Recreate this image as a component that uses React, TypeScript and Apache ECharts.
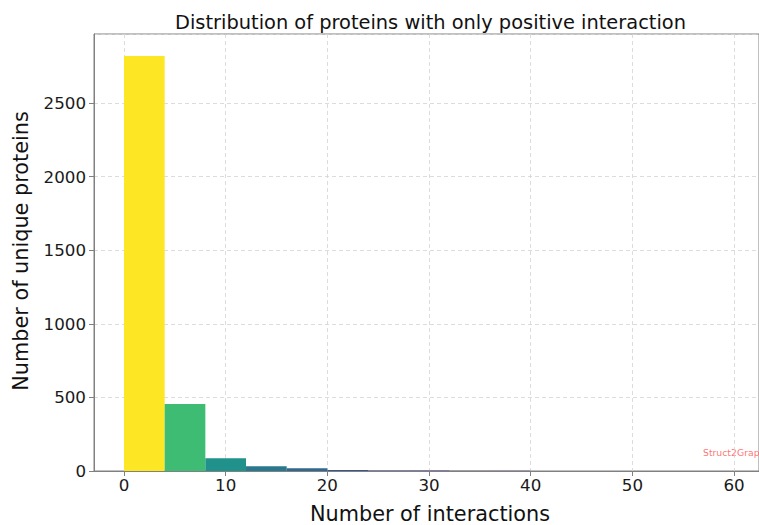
import React, { useEffect, useRef } from "react";
import * as echarts from "echarts";

const binStarts = [0, 4, 8, 12, 16, 20, 24, 28, 32, 36];
const binWidth = 4;
const counts = [2820, 455, 86, 32, 18, 7, 4, 3, 2, 2];
const binColors = ["#fde725", "#3fbc73", "#21918c", "#2a788e", "#31688e", "#39568c", "#3e4a89", "#443a83", "#472c7a", "#481d6f"];
const yMax = 2969;
const xMax = 62.45;

const FONT = "DejaVu Sans";
const gridLine = { show: true, lineStyle: { color: "#d3d3d3", type: [4, 3], width: 0.8 } };

export default function App() {
  const ref = useRef<HTMLDivElement>(null);
  useEffect(() => {
    document.body.style.margin = "0";
    const chart = echarts.init(ref.current!, undefined, { renderer: "svg" });
    const data = binStarts.map((s, i) => [s, s + binWidth, counts[i], i]);
    chart.setOption({
      animation: false,
      grid: [
        { left: 94, top: 34, bottom: 54, right: -2, show: true, borderColor: "#808080", borderWidth: 1, backgroundColor: "transparent" },
        { left: 124, top: 34, bottom: 54, right: -2, show: false },
      ],
      xAxis: [
        {
          gridIndex: 0,
          type: "value",
          min: 0,
          max: 1,
          axisLine: { show: true, onZero: false, lineStyle: { color: "#808080", width: 1 } },
          axisTick: { show: false },
          axisLabel: { show: false },
          splitLine: { show: false },
        },
        {
          gridIndex: 1,
          type: "value",
          min: 0,
          max: xMax,
          interval: 10,
          axisLine: { show: false, onZero: false },
          axisTick: { show: true, length: 5, lineStyle: { color: "#808080" } },
          axisLabel: {
            color: "#1a1a1a",
            fontFamily: FONT,
            fontSize: 16.7,
            margin: 5,
            showMaxLabel: false,
            formatter: (v: number) => (v % 10 === 0 ? String(v) : ""),
          },
          splitLine: gridLine,
        },
      ],
      yAxis: [
        {
          gridIndex: 0,
          type: "value",
          min: 0,
          max: yMax,
          interval: 500,
          axisLine: { show: true, onZero: false, lineStyle: { color: "#808080", width: 1 } },
          axisTick: { show: true, length: 5, lineStyle: { color: "#808080" } },
          axisLabel: {
            color: "#1a1a1a",
            fontFamily: FONT,
            fontSize: 16.7,
            margin: 8,
            showMaxLabel: false,
            formatter: (v: number) => (v % 500 === 0 ? String(v) : ""),
          },
          splitLine: gridLine,
        },
        {
          gridIndex: 1,
          type: "value",
          min: 0,
          max: yMax,
          interval: 500,
          show: false,
          splitLine: { show: false },
        },
      ],
      series: [
        {
          type: "custom",
          xAxisIndex: 1,
          yAxisIndex: 1,
          data,
          encode: { x: [0, 1], y: 2 },
          renderItem: (params: any, api: any) => {
            const s = api.value(0);
            const e = api.value(1);
            const c = api.value(2);
            const idx = api.value(3);
            const p0 = api.coord([s, c]);
            const p1 = api.coord([e, 0]);
            return {
              type: "rect",
              shape: { x: p0[0], y: p0[1], width: p1[0] - p0[0], height: p1[1] - p0[1] },
              style: { fill: binColors[idx] },
            };
          },
          z: 3,
        },
      ],
      graphic: [
        {
          type: "text",
          x: 430.5,
          y: 22,
          style: { text: "Distribution of proteins with only positive interaction", fontFamily: FONT, fontSize: 19.4, fill: "#111", textAlign: "center", textVerticalAlign: "middle" },
        },
        {
          type: "text",
          x: 430,
          y: 514,
          style: { text: "Number of interactions", fontFamily: FONT, fontSize: 20.8, fill: "#111", textAlign: "center", textVerticalAlign: "middle" },
        },
        {
          type: "text",
          x: 21,
          y: 251,
          rotation: Math.PI / 2,
          style: { text: "Number of unique proteins", fontFamily: FONT, fontSize: 20.8, fill: "#111", textAlign: "center", textVerticalAlign: "middle" },
        },
        {
          type: "text",
          x: 703,
          y: 452,
          style: { text: "Struct2Graph", fontFamily: FONT, fontSize: 9.3, fill: "#ff5a5a", opacity: 0.85, textAlign: "left", textVerticalAlign: "middle" },
        },
      ],
    });
    return () => chart.dispose();
  }, []);
  return <div ref={ref} style={{ width: 759, height: 525 }} />;
}
